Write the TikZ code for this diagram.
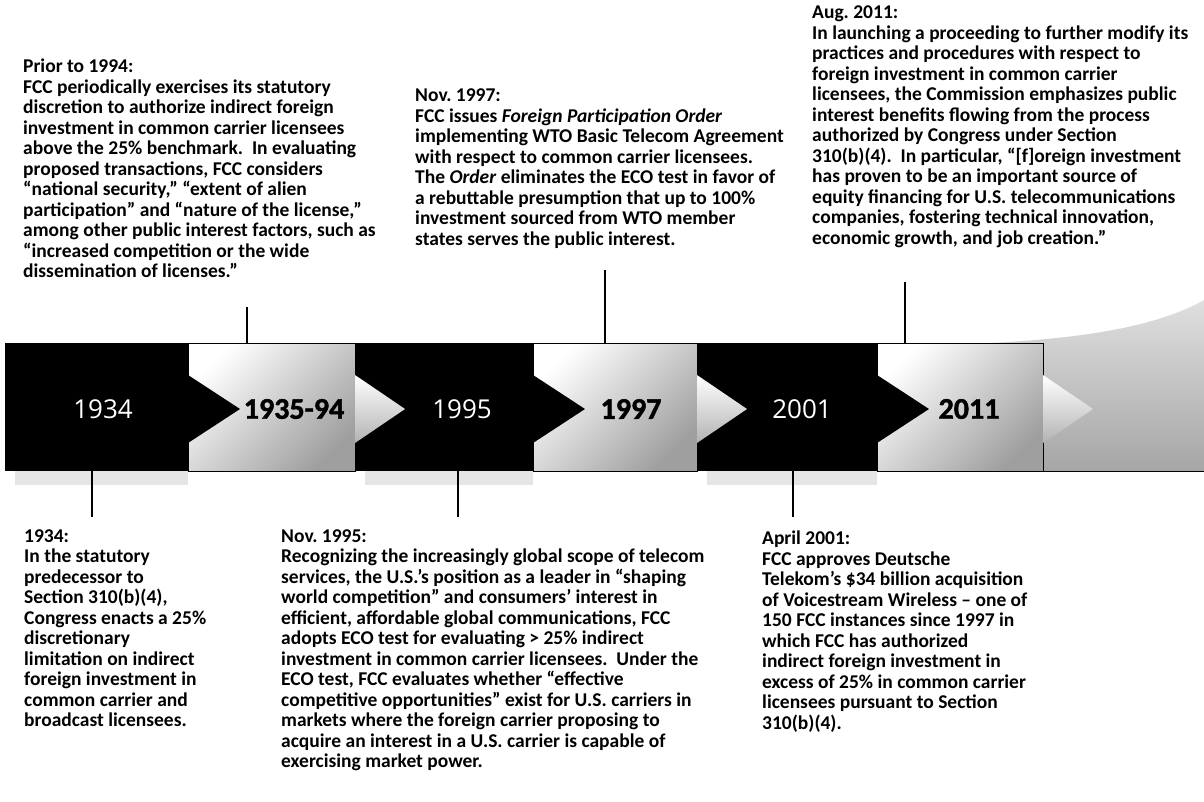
\documentclass[tikz,border=0pt]{standalone}
\usepackage{fontspec}
\setmainfont{Carlito}
\newfontfamily\yearfont{Open Sans}
\newfontfamily\heavyfont[BoldFeatures={FakeBold=1.6}]{Carlito}
\frenchspacing
\begin{document}
\begin{tikzpicture}[x=1pt, y=-1pt,
    lite/.style={top color=white, bottom color=gray!75, shading angle=45},
    yrlight/.style={text=white, font=\yearfont\fontsize{26}{26}\selectfont},
    yrbold/.style={text=black, font=\heavyfont\bfseries\fontsize{30}{30}\selectfont},
    note/.style={anchor=north west, align=left, inner sep=0pt,
                 font=\bfseries\fontsize{19.5}{20.5}\selectfont},
    pinline/.style={line width=1.3pt}]

  \useasboundingbox (0,0) rectangle (1204,801);

  % sfondo a destra della banda
  \shade[top color=gray!25, bottom color=gray!70]
    (990,343) .. controls (1090,338) and (1160,325) .. (1204,300)
    -- (1204,471) -- (1043,471) -- cycle;

  % riflesso sotto la banda
  \foreach \a/\b in {15/188, 365/533, 707/877}
    \fill[gray!20] (\a,471) rectangle (\b,485);

  % segmenti neri e chiari
  \foreach \a/\b in {5/188, 355/533, 697/877}
    \fill[black] (\a,343) rectangle (\b,471);
  \foreach \a/\b in {188/355, 533/697, 877/1043}
    \shadedraw[lite, draw=black, line width=1pt] (\a,343) rectangle (\b,471);
  \draw[line width=1pt] (1043,471) -- (1204,471);

  % punte
  \foreach \b in {188, 533, 877}
    \fill[black] (\b,375) -- ++(52,34) -- ++(-52,34) -- cycle;
  \foreach \b in {355, 697, 1043}
    \shade[top color=white, bottom color=gray!60]
      (\b,375) -- ++(50,34) -- ++(-50,34) -- cycle;

  % anni
  \node[yrlight] (y1934) at (103,409) {1934};
  \node[yrbold]  (y1935) at (294,409) {1935-94};
  \node[yrlight] (y1995) at (462,409) {1995};
  \node[yrbold]  (y1997) at (631,409) {1997};
  \node[yrlight] (y2001) at (802,409) {2001};
  \node[yrbold]  (y2011) at (969,409) {2011};

  % note sopra
  \node[note] (prior) at (23,59) {Prior to 1994:\\
    FCC periodically exercises its statutory\\
    discretion to authorize indirect foreign\\
    investment in common carrier licensees\\
    above the 25\% benchmark.\ \ In evaluating\\
    proposed transactions, FCC considers\\
    “national security,” “extent of alien\\
    participation” and “nature of the license,”\\
    among other public interest factors, such as\\
    “increased competition or the wide\\
    dissemination of licenses.”};
  \node[note] (nov97) at (415,89) {Nov. 1997:\\
    FCC issues \textit{Foreign Participation Order}\\
    implementing WTO Basic Telecom Agreement\\
    with respect to common carrier licensees.\\
    The \textit{Order} eliminates the ECO test in favor of\\
    a rebuttable presumption that up to 100\%\\
    investment sourced from WTO member\\
    states serves the public interest.};
  \node[note] (aug11) at (812,6) {Aug. 2011:\\
    In launching a proceeding to further modify its\\
    practices and procedures with respect to\\
    foreign investment in common carrier\\
    licensees, the Commission emphasizes public\\
    interest benefits flowing from the process\\
    authorized by Congress under Section\\
    310(b)(4).\ \ In particular, “[f]oreign investment\\
    has proven to be an important source of\\
    equity financing for U.S. telecommunications\\
    companies, fostering technical innovation,\\
    economic growth, and job creation.”};

  % note sotto
  \node[note] (n1934) at (24,529) {1934:\\
    In the statutory\\
    predecessor to\\
    Section 310(b)(4),\\
    Congress enacts a 25\%\\
    discretionary\\
    limitation on indirect\\
    foreign investment in\\
    common carrier and\\
    broadcast licensees.};
  \node[note] (nov95) at (281,529) {Nov. 1995:\\
    Recognizing the increasingly global scope of telecom\\
    services, the U.S.’s position as a leader in “shaping\\
    world competition” and consumers’ interest in\\
    efficient, affordable global communications, FCC\\
    adopts ECO test for evaluating > 25\% indirect\\
    investment in common carrier licensees.\ \ Under the\\
    ECO test, FCC evaluates whether “effective\\
    competitive opportunities” exist for U.S. carriers in\\
    markets where the foreign carrier proposing to\\
    acquire an interest in a U.S. carrier is capable of\\
    exercising market power.};
  \node[note] (apr01) at (762,531) {April 2001:\\
    FCC approves Deutsche\\
    Telekom’s \$34 billion acquisition\\
    of Voicestream Wireless – one of\\
    150 FCC instances since 1997 in\\
    which FCC has authorized\\
    indirect foreign investment in\\
    excess of 25\% in common carrier\\
    licensees pursuant to Section\\
    310(b)(4).};

  % tacche
  \coordinate (tPrior) at (247,307);  \coordinate (bPrior) at (247,343);
  \coordinate (tNov97) at (605,270);  \coordinate (bNov97) at (605,343);
  \coordinate (tAug11) at (905,282);  \coordinate (bAug11) at (905,343);
  \coordinate (t1934) at (92,471);    \coordinate (b1934) at (92,517);
  \coordinate (tNov95) at (458,471);  \coordinate (bNov95) at (458,517);
  \coordinate (tApr01) at (793,471);  \coordinate (bApr01) at (793,517);
  \foreach \p in {Prior, Nov97, Aug11, 1934, Nov95, Apr01}
    \draw[pinline] (t\p) -- (b\p);
\end{tikzpicture}
\end{document}
